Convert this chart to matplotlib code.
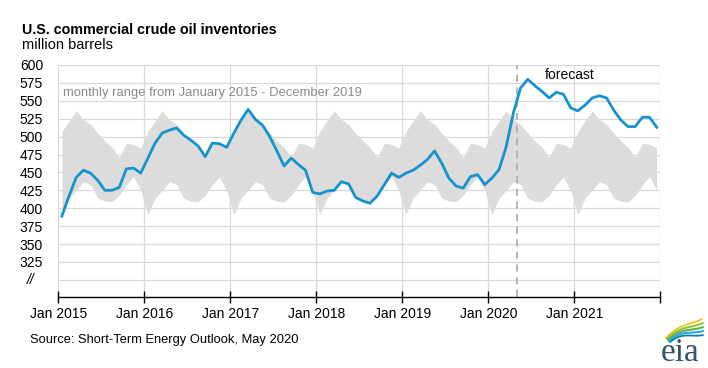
import numpy as np
import matplotlib
matplotlib.use("Agg")
import matplotlib.pyplot as plt

plt.rcParams['font.family'] = ['Liberation Sans', 'DejaVu Sans']

# ---------------- data ----------------
years = [2015, 2016, 2017, 2018, 2019, 2020, 2021]
tick_labels = ["Jan 2015", "Jan 2016", "Jan 2017", "Jan 2018", "Jan 2019", "Jan 2020", "Jan 2021", ""]

inventories_2015 = [389, 417, 443, 453, 449, 439, 425, 425, 429, 455, 456, 449]
inventories_2016 = [470, 491, 505, 509, 512, 502, 495, 487, 472, 491, 490, 485]
inventories_2017 = [505, 523, 538, 524, 516, 500, 480, 459, 470, 461, 453, 422]
inventories_2018 = [420, 424, 425, 437, 434, 415, 410, 407, 417, 433, 449, 443]
inventories_2019 = [449, 453, 460, 468, 480, 463, 442, 431, 428, 444, 447, 433]
inventories_2020 = [442, 454, 486, 533, 568, 580, 571, 563, 554, 562, 559, 540]
inventories_2021 = [536, 544, 554, 557, 554, 537, 523, 514, 514, 527, 527, 513]

# five-year (2015-2019) monthly range, Jan..Dec
range_upper = [507, 522, 536, 524, 517, 505, 494, 485, 471, 491, 489, 484]
range_lower = [391, 414, 425, 437, 433, 414, 410, 409, 418, 433, 444, 425]

forecast_start_month = 64  # May 2020 (months since Jan 2015)
ytick_values = [300, 325, 350, 375, 400, 425, 450, 475, 500, 525, 550, 575, 600]

# ---------------- build series ----------------
values = np.array(inventories_2015 + inventories_2016 + inventories_2017 + inventories_2018
                  + inventories_2019 + inventories_2020 + inventories_2021, dtype=float)
n = len(values)
x = np.arange(n) + 0.5
band_up = np.tile(range_upper, len(years))
band_lo = np.tile(range_lower, len(years))

W, H = 708, 368
fig = plt.figure(figsize=(W / 100, H / 100), dpi=100)
left, right, top, bottom = 58.3, 660.3, 65, 297
ax = fig.add_axes([left / W, 1 - bottom / H, (right - left) / W, (bottom - top) / H])

grid_c = '#d9d9d9'
ax.set_xlim(0, 12 * len(years))
ax.set_ylim(276, 600)

for v in ytick_values:
    ax.axhline(v, color=grid_c, lw=0.9, zorder=0)
for k in range(len(years) + 1):
    ax.axvline(12 * k, color=grid_c, lw=0.9, zorder=0)

ax.fill_between(x, band_lo, band_up, color='#dcdcdc', lw=0, zorder=1)
ax.plot(x, values, color='#1593cf', lw=2.0, zorder=3)
ax.axvline(forecast_start_month, color='#b0b0b0', lw=1.3, ls=(0, (4, 3)), zorder=2)

ax.text(0.7, 561, "monthly range from January 2015 - December 2019", color='#8a8a8a',
        fontsize=9.4, va='center', ha='left', zorder=4)
ax.text(67.9, 586, "forecast", color='black', fontsize=10, va='center', ha='left', zorder=4)

for s in ['left', 'right', 'top']:
    ax.spines[s].set_visible(False)
ax.spines['bottom'].set_color('black')
ax.spines['bottom'].set_linewidth(1.0)
ax.spines['bottom'].set_zorder(5)

ax.set_xticks([12 * k for k in range(len(years) + 1)])
ax.set_xticklabels(tick_labels, fontsize=10)
ax.tick_params(axis='x', direction='inout', length=8, width=1, color='black', pad=3)

ax.set_yticks(ytick_values)
ax.set_yticklabels(["" if v == 300 else str(v) for v in ytick_values], fontsize=10)
ax.tick_params(axis='y', length=0, pad=11)
ytr = ax.get_yaxis_transform()
ax.text((31 - left) / (right - left), 300, "//", transform=ytr, ha='center', va='center',
        fontsize=10, style='italic')

# titles
fig.text(22 / W, 1 - 34.3 / H, "U.S. commercial crude oil inventories", fontsize=10.3,
         fontweight='bold', ha='left', va='baseline')
fig.text(22 / W, 1 - 49.3 / H, "million barrels", fontsize=10.5, ha='left', va='baseline')
fig.text(30 / W, 1 - 340 / H, "Source: Short-Term Energy Outlook, May 2020", fontsize=9.3,
         ha='left', va='center')

# eia logo
lax = fig.add_axes([640 / W, 0, 68 / W, 60 / H])
lax.set_xlim(640, 708)
lax.set_ylim(368, 308)
lax.axis('off')
lax.text(680, 361, "eia", fontsize=24, family=['Liberation Serif', 'DejaVu Serif'],
         color='#35546a', ha='center', va='baseline')
t = np.linspace(0, 1, 40)
arcs = [('#f2c40c', 666, 338, 702, 319, 1.2), ('#8cc63f', 667, 339, 703, 323, 1.5),
        ('#5fb246', 668, 340, 703, 327, 1.5), ('#27a9e1', 669, 341, 703, 331, 1.5),
        ('#0a7fc1', 670, 342, 703, 335, 1.3)]
for c, x0, y0, x1, y1, lw in arcs:
    xs = x0 + (x1 - x0) * t
    ys = y0 + (y1 - y0) * t - 6 * np.sin(np.pi * t) * (1 - t)
    lax.plot(xs, ys, color=c, lw=lw, solid_capstyle='round')

fig.savefig("out.png", dpi=100)
